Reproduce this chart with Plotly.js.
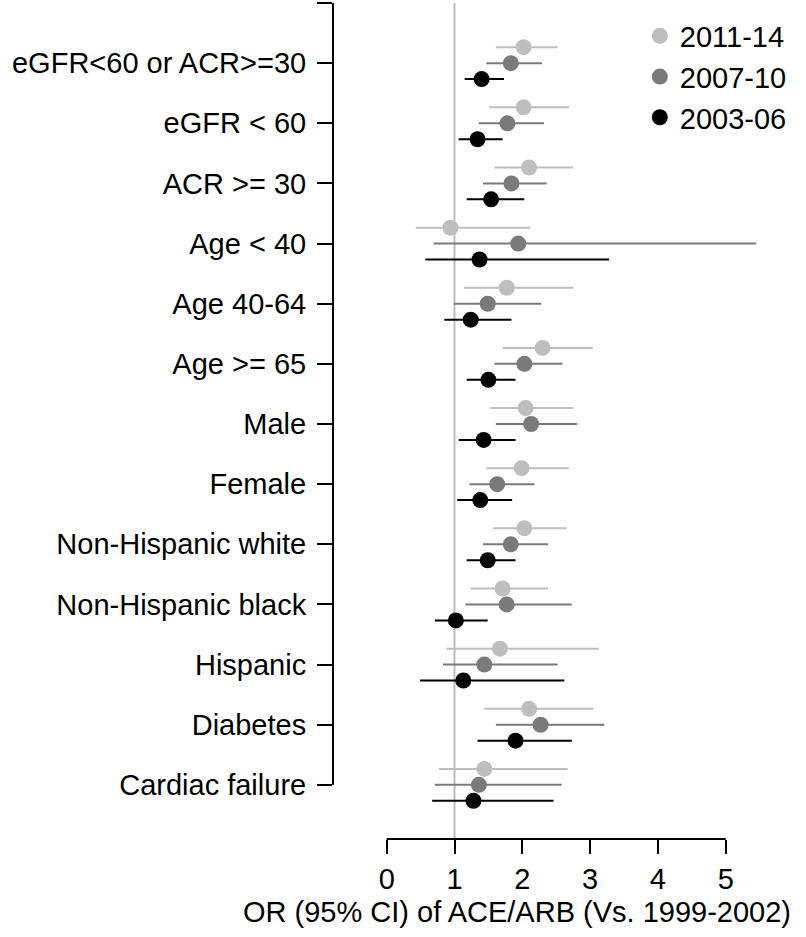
<html lang="en">
  <head>
    <meta charset="UTF-8" />
    <title>ACE/ARB odds ratios</title>
    <script src="https://cdn.plot.ly/plotly-3.0.1.min.js"></script>
    <style>
      body { margin: 0; background: #fff; }
    </style>
  </head>
  <body>
    <div id="forestPlot" style="width: 806px; height: 937px;"></div>
    <script>
      // subgroups, top to bottom
      const categories = [
        'eGFR<60 or ACR>=30', 'eGFR < 60', 'ACR >= 30', 'Age < 40', 'Age 40-64',
        'Age >= 65', 'Male', 'Female', 'Non-Hispanic white', 'Non-Hispanic black',
        'Hispanic', 'Diabetes', 'Cardiac failure'
      ];

      // 2011-14
      const or2011 = [2.02, 2.02, 2.10, 0.94, 1.77, 2.30, 2.05, 1.99, 2.03, 1.71, 1.67, 2.10, 1.44];
      const lo2011 = [1.61, 1.51, 1.59, 0.43, 1.14, 1.71, 1.53, 1.47, 1.57, 1.24, 0.88, 1.44, 0.77];
      const hi2011 = [2.52, 2.69, 2.75, 2.12, 2.75, 3.04, 2.75, 2.69, 2.65, 2.38, 3.13, 3.05, 2.67];

      // 2007-10
      const or2007 = [1.83, 1.78, 1.84, 1.94, 1.49, 2.03, 2.13, 1.63, 1.83, 1.77, 1.44, 2.27, 1.36];
      const lo2007 = [1.47, 1.36, 1.42, 0.69, 0.99, 1.59, 1.61, 1.22, 1.42, 1.16, 0.83, 1.61, 0.71];
      const hi2007 = [2.29, 2.32, 2.36, 5.45, 2.28, 2.59, 2.81, 2.18, 2.38, 2.73, 2.52, 3.21, 2.58];

      // 2003-06
      const or2003 = [1.40, 1.34, 1.54, 1.37, 1.24, 1.50, 1.43, 1.38, 1.49, 1.02, 1.13, 1.90, 1.28];
      const lo2003 = [1.15, 1.06, 1.18, 0.57, 0.85, 1.18, 1.06, 1.04, 1.18, 0.71, 0.49, 1.34, 0.67];
      const hi2003 = [1.73, 1.71, 2.03, 3.28, 1.84, 1.90, 1.90, 1.85, 1.90, 1.49, 2.62, 2.73, 2.46];

      const xTicks = [0, 1, 2, 3, 4, 5];

      const fontFamily = 'Liberation Sans, Arial, Helvetica, sans-serif';
      const fontSize = 29;

      // one trace per period, shifted up/down around the category row
      function makeTrace(name, est, lo, hi, offset, color) {
        return {
          x: est,
          y: est.map((_, i) => i + 1 + offset),
          type: 'scatter',
          mode: 'markers',
          name: name,
          marker: { color: color, size: 16 },
          error_x: {
            type: 'data',
            symmetric: false,
            array: hi.map((v, i) => v - est[i]),
            arrayminus: lo.map((v, i) => est[i] - v),
            color: color,
            thickness: 2,
            width: 0
          },
          hoverinfo: 'x+name'
        };
      }

      const traces = [
        makeTrace('2011-14', or2011, lo2011, hi2011, -0.265, '#bebebe'),
        makeTrace('2007-10', or2007, lo2007, hi2007, 0, '#7a7a7a'),
        makeTrace('2003-06', or2003, lo2003, hi2003, 0.265, '#000000')
      ];

      const layout = {
        width: 806,
        height: 937,
        margin: { l: 333, r: 6, t: 3, b: 98 },
        paper_bgcolor: '#ffffff',
        plot_bgcolor: '#ffffff',
        font: { family: fontFamily, size: fontSize, color: '#000' },
        showlegend: true,
        legend: {
          x: 0.657, y: 0.991, xanchor: 'left', yanchor: 'top',
          bgcolor: 'rgba(0,0,0,0)',
          font: { family: fontFamily, size: fontSize, color: '#000' }
        },
        xaxis: {
          range: [-0.792, 6.096],
          tickvals: xTicks,
          ticktext: xTicks.map(String),
          ticks: 'outside',
          ticklen: 14,
          tickwidth: 2,
          tickcolor: '#000',
          showline: false,
          showgrid: false,
          zeroline: false,
          tickfont: { size: fontSize }
        },
        yaxis: {
          range: [13.9, 0],
          tickvals: [0].concat(categories.map((_, i) => i + 1)),
          ticktext: [''].concat(categories),
          ticks: 'outside',
          ticklen: 15,
          tickwidth: 2,
          tickcolor: '#000',
          ticklabelstandoff: 5,
          showline: false,
          showgrid: false,
          zeroline: false,
          tickfont: { size: fontSize }
        },
        shapes: [
          // reference line at OR = 1
          { type: 'line', xref: 'x', yref: 'paper', x0: 1, x1: 1, y0: 0, y1: 1,
            line: { color: '#bebebe', width: 2 }, layer: 'below' },
          // R-style axis lines spanning the ticks only
          { type: 'line', xref: 'x', yref: 'paper', x0: 0, x1: 5, y0: 0, y1: 0,
            line: { color: '#000', width: 2 } },
          { type: 'line', xref: 'paper', yref: 'y', x0: 0, x1: 0, y0: 0, y1: categories.length,
            line: { color: '#000', width: 2 } }
        ],
        annotations: [
          {
            text: 'OR (95% CI) of ACE/ARB (Vs. 1999-2002)',
            xref: 'paper', yref: 'paper',
            x: 0.395, y: 0, xanchor: 'center', yanchor: 'top',
            yshift: -55, showarrow: false,
            font: { family: fontFamily, size: fontSize, color: '#000' }
          }
        ]
      };

      Plotly.newPlot('forestPlot', traces, layout, { displayModeBar: false, staticPlot: true });
    </script>
  </body>
</html>
